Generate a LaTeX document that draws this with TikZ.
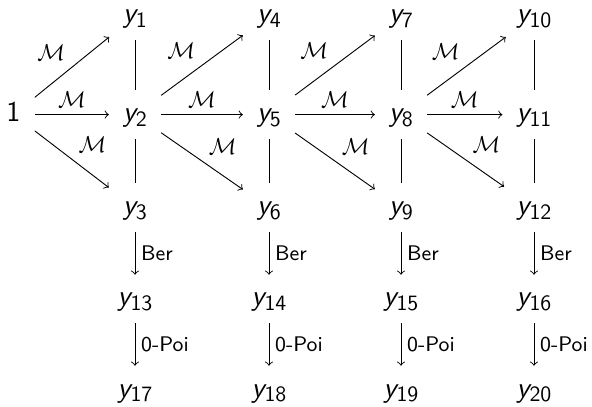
\documentclass[tikz,border=0pt]{standalone}
\usepackage{tikz}
\renewcommand{\familydefault}{\sfdefault}
\newcommand{\yv}[1]{{\slshape y}\raisebox{-2pt}{\fontsize{9.5}{11}\selectfont #1}}
\begin{document}
\begin{tikzpicture}[x=0.4348pt,y=-0.4348pt,
  cell/.style={anchor=base, inner xsep=6pt, inner ysep=3.4pt, text height=8.5pt, text depth=2.5pt, font=\fontsize{12.5}{14}\selectfont},
  lab/.style={auto, inner sep=2.5pt, font=\fontsize{9.2}{11}\selectfont},
  mlab/.style={auto, inner sep=2.8pt, font=\fontsize{10}{12}\selectfont},
  arr/.style={-to, line width=0.4pt},
  varr/.style={-to, line width=0.4pt, shorten <=1.5pt, shorten >=1.5pt},
  ln/.style={line width=0.4pt, shorten <=1.5pt, shorten >=1.5pt}]
\useasboundingbox (0,0) rectangle (592,407);
% nodes
\node[cell] (one) at (13.5,121.5) {1};
\node[cell] (y1) at (135,23) {\yv{1}};
\node[cell] (y2) at (135,121.5) {\yv{2}};
\node[cell] (y3) at (135,214.5) {\yv{3}};
\node[cell] (y4) at (269,23) {\yv{4}};
\node[cell] (y5) at (269,121.5) {\yv{5}};
\node[cell] (y6) at (269,214.5) {\yv{6}};
\node[cell] (y7) at (401,23) {\yv{7}};
\node[cell] (y8) at (401,121.5) {\yv{8}};
\node[cell] (y9) at (401,214.5) {\yv{9}};
\node[cell] (y10) at (534,23) {\yv{10}};
\node[cell] (y11) at (534,121.5) {\yv{11}};
\node[cell] (y12) at (534,214.5) {\yv{12}};
\node[cell] (y13) at (135,306) {\yv{13}};
\node[cell] (y14) at (269,306) {\yv{14}};
\node[cell] (y15) at (401,306) {\yv{15}};
\node[cell] (y16) at (534,306) {\yv{16}};
\node[cell] (y17) at (135,397) {\yv{17}};
\node[cell] (y18) at (269,397) {\yv{18}};
\node[cell] (y19) at (401,397) {\yv{19}};
\node[cell] (y20) at (534,397) {\yv{20}};
% M arrows
\draw[arr] (one) -- node[mlab] {$\mathcal{M}$} (y1);
\draw[arr] (one) -- node[mlab] {$\mathcal{M}$} (y2);
\draw[arr] (one) -- node[mlab] {$\mathcal{M}$} (y3);
\draw[arr] (y2) -- node[mlab] {$\mathcal{M}$} (y4);
\draw[arr] (y2) -- node[mlab] {$\mathcal{M}$} (y5);
\draw[arr] (y2) -- node[mlab] {$\mathcal{M}$} (y6);
\draw[arr] (y5) -- node[mlab] {$\mathcal{M}$} (y7);
\draw[arr] (y5) -- node[mlab] {$\mathcal{M}$} (y8);
\draw[arr] (y5) -- node[mlab] {$\mathcal{M}$} (y9);
\draw[arr] (y8) -- node[mlab] {$\mathcal{M}$} (y10);
\draw[arr] (y8) -- node[mlab] {$\mathcal{M}$} (y11);
\draw[arr] (y8) -- node[mlab] {$\mathcal{M}$} (y12);
% plain lines
\draw[ln] (y1) -- (y2);
\draw[ln] (y2) -- (y3);
\draw[ln] (y4) -- (y5);
\draw[ln] (y5) -- (y6);
\draw[ln] (y7) -- (y8);
\draw[ln] (y8) -- (y9);
\draw[ln] (y10) -- (y11);
\draw[ln] (y11) -- (y12);
% Ber
\draw[varr] (y3) -- node[lab] {Ber} (y13);
\draw[varr] (y6) -- node[lab] {Ber} (y14);
\draw[varr] (y9) -- node[lab] {Ber} (y15);
\draw[varr] (y12) -- node[lab] {Ber} (y16);
% 0-Poi
\draw[varr] (y13) -- node[lab] {0-Poi} (y17);
\draw[varr] (y14) -- node[lab] {0-Poi} (y18);
\draw[varr] (y15) -- node[lab] {0-Poi} (y19);
\draw[varr] (y16) -- node[lab] {0-Poi} (y20);
\end{tikzpicture}
\end{document}
